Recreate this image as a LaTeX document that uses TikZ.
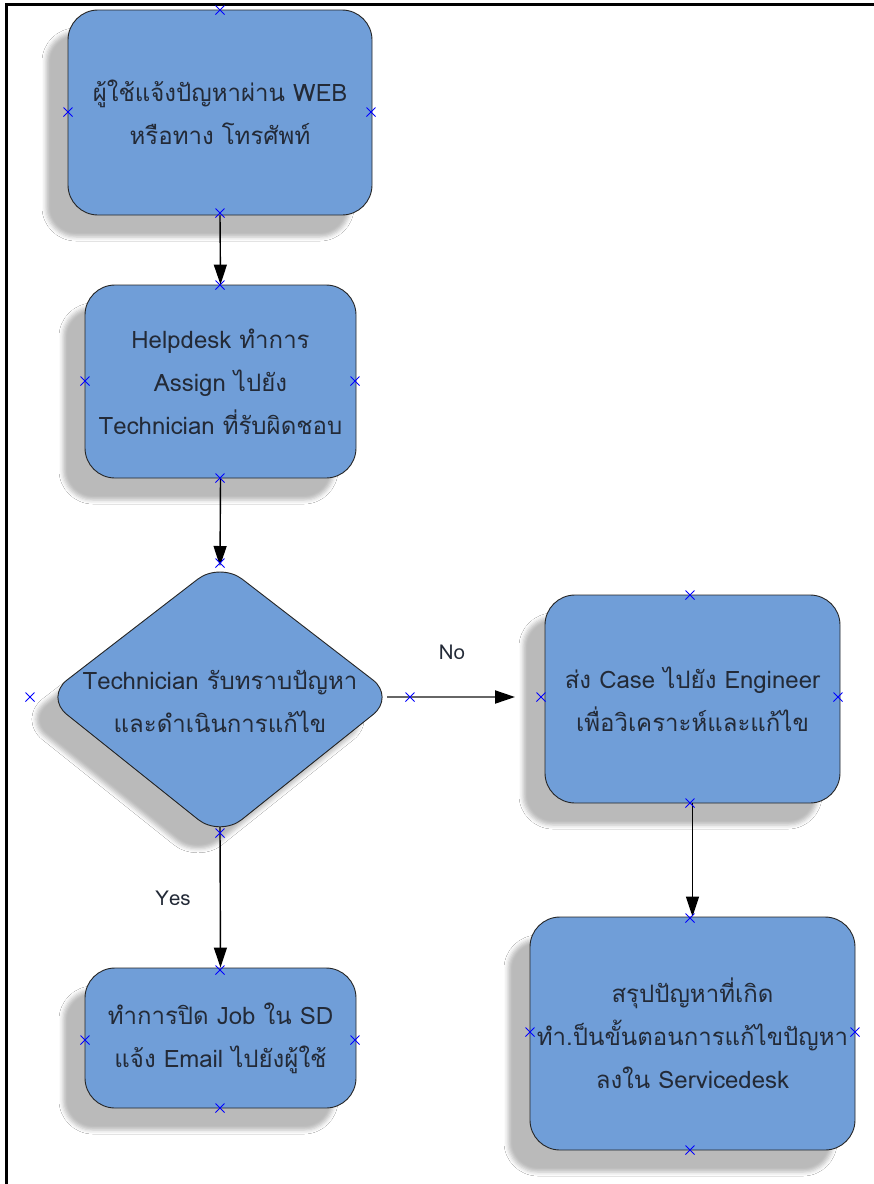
\documentclass[tikz,border=0pt]{standalone}
\usepackage{fontspec}
\newfontfamily\thaifont[Script=Thai]{Loma}
\usetikzlibrary{arrows.meta,shadows.blur}
\definecolor{boxblue}{RGB}{112,158,216}
\definecolor{txt}{RGB}{35,42,55}
\tikzset{
  shad/.style={blur shadow={shadow xshift=-22pt,shadow yshift=-22pt,shadow opacity=27,shadow blur radius=4pt}},
  procbox/.style={shad,draw=black!85,line width=0.9pt,fill=boxblue,rounded corners=30pt,inner sep=0pt,
     align=center,text=txt,font=\thaifont\fontsize{24}{43}\selectfont},
  flow/.style={line width=1.4pt,-{Triangle[length=20pt,width=13pt,color=black]}},
  lbl/.style={text=txt,font=\thaifont\fontsize{20.5}{24}\selectfont},
  mk/.style={blue,line width=0.8pt}
}
\begin{document}
\begin{tikzpicture}[x=1pt,y=-1pt]
\useasboundingbox (0,0) rectangle (874,1184);
\fill[white] (0,0) rectangle (874,1184);
\draw[line width=3pt] (874,4.5) -- (6.5,4.5) -- (6.5,1184);

% boxes
\node[procbox,minimum width=304pt,minimum height=205pt] (b1) at (220,112.5) {ผู้ใช้แจ้งปัญหาผ่าน WEB\\หรือทาง โทรศัพท์};
\node[procbox,minimum width=271pt,minimum height=193pt] (b2) at (220.5,381.5) {Helpdesk ทำการ\\Assign ไปยัง\\Technician ที่รับผิดชอบ};
\node[procbox,minimum width=295pt,minimum height=208pt] (eng) at (692.5,699) {ส่ง Case ไปยัง Engineer\\เพื่อวิเคราะห์และแก้ไข};
\node[procbox,minimum width=325pt,minimum height=233pt] (sum) at (692.5,1033.5) {สรุปปัญหาที่เกิด\\ทำ.ป็นขั้นตอนการแก้ไขปัญหา\\ลงใน Servicedesk};
\node[procbox,minimum width=271pt,minimum height=140pt] (job) at (220.5,1038) {ทำการปิด Job ใน SD\\แจ้ง Email ไปยังผู้ใช้};

% decision
\coordinate (dT) at (220,562);
\coordinate (dR) at (395,697);
\coordinate (dB) at (220,837);
\coordinate (dL) at (45,697);
\draw[shad,draw=black!85,line width=0.9pt,fill=boxblue,rounded corners=28pt] (dT) -- (dR) -- (dB) -- (dL) -- cycle;
\node[align=center,text=txt,font=\thaifont\fontsize{24}{43}\selectfont] (dtext) at (220,701) {Technician รับทราบปัญหา\\และดำเนินการแก้ไข};
\coordinate (dTa) at (220,566);
\coordinate (dBa) at (220,827);
\coordinate (dRa) at (387,697);
\coordinate (engin) at (515,697);

% connectors
\draw[flow] (b1.south) -- (b2.north);
\draw[flow] (b2.south) -- (dTa);
\draw[flow] (dBa) -- (job.north);
\draw[flow,draw=black!60,line width=2pt] (dRa) -- (engin);
\draw[flow] (eng.south) -- (sum.north);

\node[lbl] (no) at (452,652) {No};
\node[lbl] (yes) at (173,898) {Yes};

% connection point markers
\foreach \p in {(220,10),(68,112),(371,112),(220,213),
                (220,285),(85,381),(355,381),(220,478),
                (220,563),(30,697),(410,697),(220,833),
                (690,595),(541,697),(838,697),(690,803),
                (690,918),(530,1032),(855,1032),(690,1150),
                (220,970),(85,1040),(355,1040),(220,1108)}
  \draw[mk] \p ++(-4.5,-4.5) -- ++(9,9) \p ++(-4.5,4.5) -- ++(9,-9);
\end{tikzpicture}
\end{document}
